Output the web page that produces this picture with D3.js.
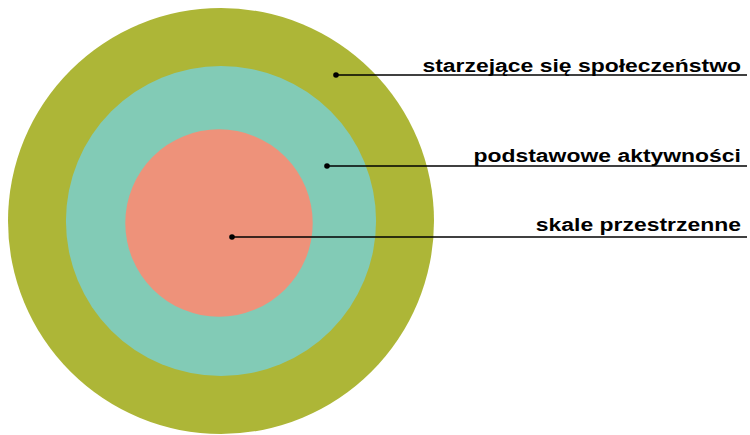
<!DOCTYPE html>
<html>
<head>
<meta charset="utf-8">
<script src="https://cdn.jsdelivr.net/npm/d3@7"></script>
<style>
    html, body { margin: 0; padding: 0; background: #fff; }
    svg { display: block; }
</style>
</head>
<body>
<div id="chart"></div>
<script>
// ring labels, outer to inner
const labels = ['starzejące się społeczeństwo', 'podstawowe aktywności', 'skale przestrzenne'];
// relative ring sizes (outer = 1)
const sizes = [1.0, 0.728, 0.44];
const colors = ['#adb637', '#82cbb6', '#ee927a'];

window.Rings = window.Rings || {};

Rings.init = function() {
    Rings.setup.initConst();
    Rings.setup.initObjects();
    Rings.core.draw();
};

Rings.core = {
    draw: function() {
        Rings.core.drawCircles();
        Rings.core.drawLabels();
    },

    drawCircles: function() {
        Rings.svg.selectAll('circle.ring')
            .data(Rings.rings)
            .join('circle')
            .attr('class', 'ring')
            .attr('cx', d => d.cx)
            .attr('cy', d => d.cy)
            .attr('r', d => Rings.r(d.size))
            .attr('fill', d => d.color);
    },

    drawLabels: function() {
        let g = Rings.svg.selectAll('g.label')
            .data(Rings.rings)
            .join('g')
            .attr('class', 'label');

        g.append('line')
            .attr('x1', d => d.dot[0]).attr('y1', d => d.dot[1])
            .attr('x2', Rings.lineEnd).attr('y2', d => d.dot[1])
            .attr('stroke', '#000')
            .attr('stroke-width', 1.6);

        g.append('circle')
            .attr('cx', d => d.dot[0])
            .attr('cy', d => d.dot[1])
            .attr('r', 2.8)
            .attr('fill', '#000');

        // the source text is stretched sideways, so scale x only
        g.append('text')
            .attr('transform', d => `translate(${Rings.textEnd},${d.dot[1] - d.gap}) scale(1.24,1)`)
            .attr('text-anchor', 'end')
            .attr('font-family', '"Liberation Sans", Arial, sans-serif')
            .attr('font-weight', 'bold')
            .attr('font-size', 18.5)
            .attr('fill', '#000')
            .text(d => d.label);
    }
};

Rings.setup = {
    initConst: function() {
        Rings.width = 750;
        Rings.height = 435;
        Rings.center = [221, 221];
        Rings.lineEnd = 747;
        Rings.textEnd = 741;
        Rings.r = d3.scaleLinear().domain([0, 1]).range([0, 213]);
    },

    initObjects: function() {
        Rings.svg = d3.select('#chart').append('svg')
            .attr('width', Rings.width)
            .attr('height', Rings.height);

        // where each leader line starts, and text gap above it
        let dots = [[336, 75], [327, 166], [232, 237]];
        let gaps = [3.2, 3.6, 6.5];
        let offsets = [[0, 0], [0, 0], [-2, 2]];

        Rings.rings = labels.map((label, i) => ({
            label: label,
            size: sizes[i],
            color: colors[i],
            cx: Rings.center[0] + offsets[i][0],
            cy: Rings.center[1] + offsets[i][1],
            dot: dots[i],
            gap: gaps[i]
        }));
    }
};

Rings.init();
</script>
</body>
</html>
